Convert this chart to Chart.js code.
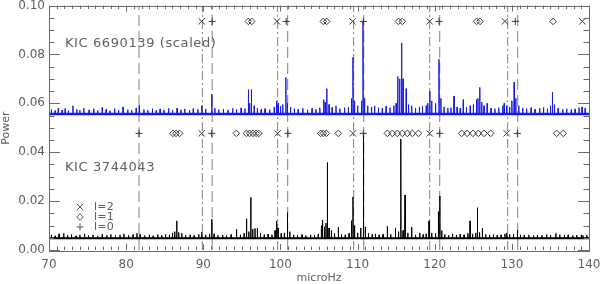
<!DOCTYPE html>
<html><head><meta charset="utf-8">
<script src="https://cdn.jsdelivr.net/npm/chart.js@4.4.1/dist/chart.umd.min.js"></script>
<style>html,body{margin:0;padding:0;background:#fff;}canvas{display:block;}</style>
</head><body>
<canvas id="c" width="600" height="284"></canvas>
<script>
// ---------- data ----------
const xRange = [70, 140];
const yRange = [0, 0.10];
const xTickStep = 10;
const yTickStep = 0.02;

const blueBase = 0.0556;
const blackBase = 0.0048;

// blue spectrum (KIC 6690139, scaled): [frequency microHz, power]
const bluePeaks = [
 [70.3,0.0575],[70.8,0.0570],[71.2,0.0580],[71.7,0.0572],[72.1,0.0578],[72.5,0.0570],[73.1,0.0590],[73.6,0.0575],
 [74.0,0.0572],[74.5,0.0580],[75.2,0.0573],[75.8,0.0578],[76.3,0.0571],[76.9,0.0583],[77.4,0.0575],[77.9,0.0570],
 [78.5,0.0578],[79.0,0.0572],[79.6,0.0585],[80.2,0.0574],[80.7,0.0572],[81.3,0.0580],[81.7,0.0590],[82.3,0.0575],
 [82.8,0.0572],[83.4,0.0578],[83.9,0.0571],[84.4,0.0577],[84.9,0.0573],[85.5,0.0579],[86.0,0.0572],[86.6,0.0580],
 [87.1,0.0574],[87.6,0.0577],[88.2,0.0572],[88.7,0.0578],[89.3,0.0575],[89.8,0.0590],[90.3,0.0577],[91.1,0.0638],
 [91.5,0.0580],[92.0,0.0574],[92.6,0.0577],[93.2,0.0573],[93.8,0.0579],[94.3,0.0575],[94.9,0.0581],[95.4,0.0578],
 [95.84,0.0656],[96.0,0.0600],[96.23,0.0656],[96.6,0.0590],[97.0,0.0580],[97.5,0.0575],[98.0,0.0578],[98.6,0.0574],
 [99.2,0.0585],[99.5,0.0610],[99.7,0.0600],[100.0,0.0588],[100.3,0.0595],[100.7,0.0706],[100.9,0.0600],[101.3,0.0585],
 [101.8,0.0578],[102.3,0.0575],[102.9,0.0580],[103.5,0.0574],[104.1,0.0579],[104.6,0.0576],[105.1,0.0582],[105.6,0.0615],
 [105.8,0.0605],[106.0,0.0660],[106.3,0.0595],[106.7,0.0583],[107.2,0.0590],[107.7,0.0578],[108.3,0.0582],[108.8,0.0585],
 [109.2,0.0620],[109.4,0.0788],[109.6,0.0610],[110.0,0.0590],[110.5,0.0610],[110.7,0.0935],[110.9,0.0620],[111.3,0.0590],
 [111.8,0.0585],[112.2,0.0590],[112.7,0.0582],[113.2,0.0580],[113.7,0.0588],[114.2,0.0582],[114.7,0.0590],[115.0,0.0600],
 [115.2,0.0710],[115.45,0.0700],[115.7,0.0847],[115.9,0.0700],[116.3,0.0660],[116.6,0.0595],[117.0,0.0590],[117.5,0.0580],
 [118.0,0.0585],[118.4,0.0588],[118.9,0.0590],[119.1,0.0600],[119.35,0.0650],[119.6,0.0610],[120.1,0.0600],[120.55,0.0780],
 [120.8,0.0620],[121.2,0.0585],[121.7,0.0580],[122.1,0.0582],[122.5,0.0630],[122.9,0.0585],[123.3,0.0580],[123.7,0.0615],
 [124.1,0.0585],[124.6,0.0590],[125.0,0.0595],[125.4,0.0615],[125.6,0.0620],[125.83,0.0665],[126.1,0.0605],[126.4,0.0590],
 [126.8,0.0600],[127.3,0.0580],[127.8,0.0578],[128.3,0.0582],[128.8,0.0590],[129.0,0.0600],[129.3,0.0590],[129.7,0.0585],
 [130.0,0.0610],[130.3,0.0686],[130.5,0.0620],[130.9,0.0590],[131.4,0.0580],[131.9,0.0578],[132.5,0.0582],[133.0,0.0575],
 [133.6,0.0580],[134.1,0.0583],[134.6,0.0578],[135.0,0.0590],[135.25,0.0645],[135.5,0.0595],[136.0,0.0580],[136.6,0.0575],
 [137.1,0.0578],[137.7,0.0574],[138.2,0.0577],[138.7,0.0582],[139.1,0.0585],[139.5,0.0580]
];

// black spectrum (KIC 3744043)
const blackPeaks = [
 [70.3,0.0062],[70.8,0.0058],[71.3,0.0066],[71.9,0.0068],[72.4,0.0060],[72.9,0.0063],[73.5,0.0058],[74.0,0.0062],
 [74.6,0.0066],[75.1,0.0059],[75.7,0.0062],[76.3,0.0058],[76.9,0.0063],[77.5,0.0060],[78.0,0.0064],[78.6,0.0059],
 [79.2,0.0062],[79.7,0.0066],[80.3,0.0060],[80.9,0.0063],[81.4,0.0068],[81.8,0.0064],[82.4,0.0059],[83.0,0.0062],
 [83.5,0.0058],[84.1,0.0063],[84.6,0.0060],[85.1,0.0064],[85.6,0.0062],[86.0,0.0070],[86.3,0.0075],[86.55,0.0119],
 [86.8,0.0072],[87.2,0.0068],[87.7,0.0060],[88.3,0.0062],[88.8,0.0059],[89.4,0.0064],[89.8,0.0072],[90.3,0.0062],
 [90.8,0.0066],[91.09,0.0126],[91.4,0.0066],[91.9,0.0060],[92.5,0.0062],[93.0,0.0059],[93.6,0.0063],[94.3,0.0085],
 [94.8,0.0062],[95.3,0.0068],[95.6,0.0128],[95.9,0.0075],[96.15,0.0215],[96.4,0.0085],[96.7,0.0088],[97.0,0.0090],
 [97.4,0.0070],[97.9,0.0062],[98.4,0.0065],[98.9,0.0063],[99.3,0.0080],[99.5,0.0119],[99.7,0.0090],[100.1,0.0068],
 [100.5,0.0070],[100.9,0.0153],[101.2,0.0075],[101.7,0.0062],[102.2,0.0060],[102.8,0.0063],[103.3,0.0059],[103.9,0.0062],
 [104.4,0.0060],[104.9,0.0064],[105.3,0.0100],[105.45,0.0123],[105.7,0.0095],[105.9,0.0110],[106.08,0.0358],[106.3,0.0090],
 [106.6,0.0080],[107.0,0.0068],[107.5,0.0094],[107.9,0.0064],[108.4,0.0062],[108.9,0.0068],[109.2,0.0120],[109.4,0.0217],
 [109.6,0.0100],[110.0,0.0070],[110.4,0.0090],[110.75,0.0474],[111.0,0.0095],[111.4,0.0068],[111.9,0.0064],[112.3,0.0066],
 [112.8,0.0062],[113.3,0.0064],[113.85,0.0097],[114.3,0.0064],[114.9,0.0090],[115.3,0.0075],[115.6,0.0454],[115.9,0.0080],
 [116.15,0.0225],[116.5,0.0070],[117.0,0.0094],[117.5,0.0062],[118.05,0.0070],[118.5,0.0063],[118.9,0.0066],[119.26,0.0119],
 [119.6,0.0070],[120.1,0.0068],[120.47,0.0157],[120.65,0.0221],[120.9,0.0080],[121.3,0.0064],[121.8,0.0060],[122.3,0.0066],
 [122.8,0.0061],[123.3,0.0064],[123.8,0.0062],[124.3,0.0068],[124.58,0.0119],[124.9,0.0066],[125.3,0.0070],[125.53,0.0173],
 [125.8,0.0072],[126.17,0.0090],[126.6,0.0064],[127.1,0.0062],[127.6,0.0063],[128.1,0.0060],[128.6,0.0062],[129.1,0.0066],
 [129.33,0.0070],[129.7,0.0064],[130.2,0.0065],[130.71,0.0082],[131.1,0.0062],[131.6,0.0060],[132.2,0.0062],[132.8,0.0059],
 [133.3,0.0061],[133.9,0.0060],[134.5,0.0063],[135.0,0.0061],[135.7,0.0068],[136.2,0.0063],[136.8,0.0060],[137.3,0.0062],
 [137.9,0.0059],[138.4,0.0061],[139.0,0.0062],[139.2,0.0060],[139.7,0.0061]
];

// vertical reference lines (l=0 dashed, l=2 dash-dot)
const l0Lines = [81.67, 91.15, 100.94, 110.8, 120.65, 130.76];
const l2Lines = [89.88, 99.64, 109.49, 119.35, 129.46];

// mode markers
const rowTop = 0.0935;
const rowBottom = 0.0477;
const topL2 = [89.8, 99.55, 109.35, 119.35, 129.1, 139.13];
const topL0 = [91.15, 100.75, 110.75, 120.56, 130.45];
const topL1 = [95.84, 96.28, 105.56, 106.0, 115.3, 115.8, 125.44, 125.87, 135.34];
const botL2 = [89.8, 99.64, 109.4, 119.35, 129.33];
const botL0 = [81.67, 91.09, 100.97, 110.75, 120.65, 130.71];
const botL1 = [86.07, 86.46, 86.94, 94.28, 95.6, 96.0, 96.45, 96.85, 97.2, 105.22, 105.56, 105.95, 107.5,
               113.86, 114.5, 115.15, 115.8, 116.45, 117.1, 117.9, 123.5, 124.2, 124.96, 125.65, 126.4, 127.26,
               135.8, 136.67];

const labels = { top: 'KIC 6690139 (scaled)', bottom: 'KIC 3744043', xTitle: 'microHz', yTitle: 'Power' };
const legendLabels = ['l=2', 'l=1', 'l=0'];

// ---------- build ----------
function spectrum(list, base, half) {
  const pts = [{x: xRange[0], y: base}];
  list.slice().sort((a, b) => a[0] - b[0]).forEach(([f, h]) => {
    pts.push({x: f - half, y: base}, {x: f, y: h}, {x: f + half, y: base});
  });
  pts.push({x: xRange[1], y: base});
  return pts;
}
const TXT = '#606060';
const MK = '#383838';
const datasets = [];
l0Lines.forEach(f => datasets.push({data: [{x: f, y: yRange[0]}, {x: f, y: yRange[1]}], borderColor: '#808080',
  borderWidth: 1, borderDash: [11, 5], pointRadius: 0, order: 5}));
l2Lines.forEach(f => datasets.push({data: [{x: f, y: yRange[0]}, {x: f, y: yRange[1]}], borderColor: '#808080',
  borderWidth: 1, borderDash: [9, 3, 2, 3], pointRadius: 0, order: 5}));
datasets.push({data: [{x: xRange[0], y: blueBase}, {x: xRange[1], y: blueBase}], borderColor: '#1c1ce0', borderWidth: 2.5, pointRadius: 0, order: 4});
datasets.push({data: spectrum(bluePeaks, blueBase, 0.035), borderColor: '#1a1ae6', borderWidth: 1, pointRadius: 0, order: 3});
datasets.push({data: [{x: xRange[0], y: blackBase}, {x: xRange[1], y: blackBase}], borderColor: '#000', borderWidth: 2.2, pointRadius: 0, order: 4});
datasets.push({data: spectrum(blackPeaks, blackBase, 0.035), borderColor: '#000', borderWidth: 1, pointRadius: 0, order: 3});
function markers(xs, y, style, r) {
  return {data: xs.map(x => ({x, y})), showLine: false, pointStyle: style, pointRadius: r,
    pointBorderColor: MK, pointBackgroundColor: 'rgba(0,0,0,0)', pointBorderWidth: 1, order: 1};
}
datasets.push(markers(topL2, rowTop, 'crossRot', 4.5));
datasets.push(markers(topL0, rowTop, 'cross', 3.5));
datasets.push(markers(topL1, rowTop, 'rectRot', 3.3));
datasets.push(markers(botL2, rowBottom, 'crossRot', 4.5));
datasets.push(markers(botL0, rowBottom, 'cross', 3.5));
datasets.push(markers(botL1, rowBottom, 'rectRot', 3.3));

const FONT = 'DejaVu Sans';

const framePlugin = {
  id: 'frame',
  afterDraw(chart) {
    const {ctx, chartArea: a, scales: {x, y}} = chart;
    ctx.save();
    ctx.strokeStyle = '#6a6a6a';
    ctx.lineWidth = 1;
    ctx.strokeRect(Math.round(a.left) + 0.5, Math.round(a.top) + 0.5, Math.round(a.right - a.left), Math.round(a.bottom - a.top));
    ctx.beginPath();
    for (let v = xRange[0]; v <= xRange[1] + 1e-9; v += 1) {
      const px = Math.round(x.getPixelForValue(v)) + 0.5;
      const len = (Math.round(v) % xTickStep === 0) ? 6 : 3.5;
      ctx.moveTo(px, a.bottom); ctx.lineTo(px, a.bottom - len);
      ctx.moveTo(px, a.top); ctx.lineTo(px, a.top + len);
    }
    for (let i = 0; i <= 20; i++) {
      const v = i * 0.005;
      const py = Math.round(y.getPixelForValue(v)) + 0.5;
      const len = (i % 4 === 0) ? 11 : 5.5;
      ctx.moveTo(a.left, py); ctx.lineTo(a.left + len, py);
      ctx.moveTo(a.right, py); ctx.lineTo(a.right - len, py);
    }
    ctx.stroke();
    // axis titles
    ctx.fillStyle = TXT;
    ctx.font = '11px "' + FONT + '"';
    ctx.textAlign = 'center'; ctx.textBaseline = 'middle';
    ctx.fillText(labels.xTitle, (a.left + a.right) / 2, 278);
    ctx.save(); ctx.translate(6, 128); ctx.rotate(-Math.PI / 2); ctx.fillText(labels.yTitle, 0, 0); ctx.restore();
    // annotations
    ctx.font = '13px "' + FONT + '"';
    ctx.letterSpacing = '0.6px';
    ctx.textAlign = 'left';
    ctx.fillText(labels.top, 65, 44);
    ctx.fillText(labels.bottom, 65, 168);
    ctx.letterSpacing = '0.3px';
    // legend
    ctx.font = '11px "' + FONT + '"';
    const lx = 80, ly = [207, 217, 227];
    ctx.strokeStyle = '#555';
    ctx.beginPath();
    ctx.moveTo(lx - 3.2, ly[0] - 3.2); ctx.lineTo(lx + 3.2, ly[0] + 3.2);
    ctx.moveTo(lx - 3.2, ly[0] + 3.2); ctx.lineTo(lx + 3.2, ly[0] - 3.2);
    ctx.moveTo(lx, ly[1] - 3.3); ctx.lineTo(lx + 3.3, ly[1]); ctx.lineTo(lx, ly[1] + 3.3); ctx.lineTo(lx - 3.3, ly[1]); ctx.closePath();
    ctx.moveTo(lx - 3.5, ly[2]); ctx.lineTo(lx + 3.5, ly[2]);
    ctx.moveTo(lx, ly[2] - 3.5); ctx.lineTo(lx, ly[2] + 3.5);
    ctx.stroke();
    legendLabels.forEach((t, i) => ctx.fillText(t, 94, ly[i] + 0.5));
    ctx.restore();
  }
};

new Chart(document.getElementById('c'), {
  type: 'line',
  data: {datasets},
  options: {
    responsive: false, animation: false, devicePixelRatio: 1,
    layout: {padding: {left: 0, right: 11, top: 4, bottom: 0}},
    plugins: {legend: {display: false}, tooltip: {enabled: false}},
    elements: {line: {tension: 0}},
    scales: {
      x: {type: 'linear', min: xRange[0], max: xRange[1],
        grid: {display: false, drawTicks: false}, border: {display: false},
        ticks: {stepSize: xTickStep, color: TXT, font: {family: FONT, size: 12}, padding: 8, maxRotation: 0,
          callback: v => String(v)},
        afterFit: s => { s.height = 34; s.paddingLeft = 0; s.paddingRight = 0; }},
      y: {type: 'linear', min: yRange[0], max: yRange[1],
        grid: {display: false, drawTicks: false}, border: {display: false},
        ticks: {stepSize: yTickStep, color: TXT, font: {family: FONT, size: 12}, padding: 4,
          callback: v => Number(v).toFixed(2)},
        afterFit: s => { s.width = 49; s.paddingTop = 0; s.paddingBottom = 0; }}
    }
  },
  plugins: [framePlugin]
});
</script>
</body></html>
